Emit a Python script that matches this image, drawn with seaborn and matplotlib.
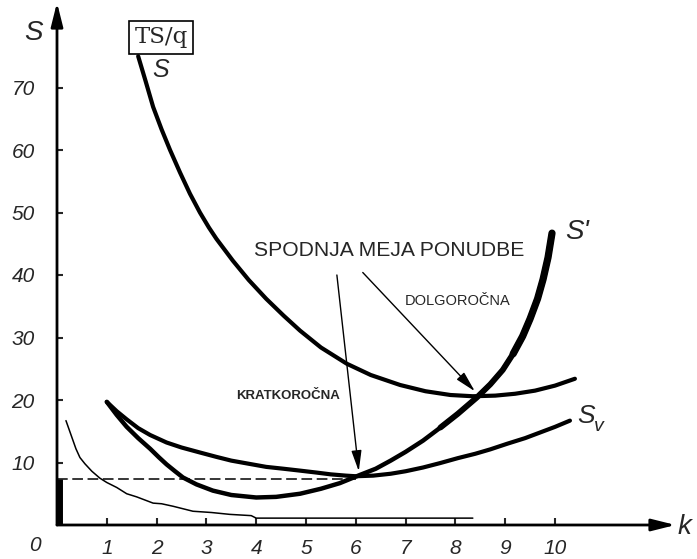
import seaborn as sns
import pandas as pd
import matplotlib.pyplot as plt

# data (k = quantity, S = cost per unit)
s_k = [1.63, 1.78, 1.93, 2.1, 2.27, 2.47, 2.67, 2.87, 3.05, 3.2, 3.53, 3.85, 4.2, 4.55, 4.88,
       5.3, 5.82, 6.3, 6.89, 7.4, 7.9, 8.35, 8.8, 9.2, 9.6, 10.0, 10.4]
s_val = [75.0, 71.0, 66.9, 63.3, 60.0, 56.4, 53.0, 50.0, 47.6, 45.8, 42.3, 39.2, 36.2, 33.5, 31.1,
         28.4, 25.8, 24.0, 22.4, 21.4, 20.8, 20.6, 20.7, 21.0, 21.5, 22.3, 23.4]

sp_k = [1.0, 1.2, 1.4, 1.63, 1.87, 2.05, 2.2, 2.37, 2.53, 2.8, 3.13, 3.5, 4.0, 4.4, 4.88, 5.3,
        5.68, 6.08, 6.4, 6.7, 7.0, 7.35, 7.7, 8.05, 8.43, 8.7, 8.95, 9.16, 9.35, 9.5, 9.65,
        9.76, 9.86, 9.94]
sp_val = [19.7, 17.6, 15.7, 13.9, 12.2, 10.8, 9.7, 8.6, 7.6, 6.5, 5.5, 4.8, 4.4, 4.5, 5.0, 5.8,
          6.7, 8.0, 9.0, 10.3, 11.7, 13.5, 15.6, 17.8, 20.4, 22.5, 24.8, 27.4, 30.2, 33.0, 36.2,
          39.3, 42.8, 46.7]

sv_k = [1.0, 1.2, 1.4, 1.63, 1.87, 2.2, 2.5, 2.87, 3.2, 3.5, 3.85, 4.2, 4.55, 4.88, 5.2, 5.5,
        5.8, 6.0, 6.35, 6.7, 7.0, 7.35, 7.69, 8.05, 8.4, 8.7, 9.04, 9.4, 9.7, 10.0, 10.3]
sv_val = [19.7, 18.2, 16.9, 15.5, 14.4, 13.2, 12.4, 11.6, 10.9, 10.3, 9.8, 9.3, 9.0, 8.7, 8.4, 8.1,
          7.9, 7.8, 7.9, 8.2, 8.6, 9.2, 9.9, 10.7, 11.4, 12.1, 13.0, 13.9, 14.8, 15.7, 16.7]

d_k = [0.18, 0.22, 0.3, 0.38, 0.46, 0.56, 0.7, 0.86, 1.0, 1.2, 1.4, 1.6, 1.93, 2.1, 2.33, 2.73,
       3.1, 3.47, 3.9, 4.0, 8.35]
d_val = [16.7, 15.8, 14.0, 12.2, 10.8, 9.8, 8.6, 7.5, 6.8, 6.0, 5.0, 4.5, 3.5, 3.4, 3.0, 2.2,
         2.0, 1.7, 1.5, 1.1, 1.1]

min_sv = 7.3  # shutdown level (dashed line)
x_ticks = [1, 2, 3, 4, 5, 6, 7, 8, 9, 10]
y_ticks = [10, 20, 30, 40, 50, 60, 70]

sns.set_style('white')
plt.rcParams['font.family'] = ['Liberation Sans', 'DejaVu Sans']

fig = plt.figure(figsize=(6.97, 5.59), dpi=100)
ax = fig.add_axes([0, 0, 1, 1])
ax.set_xlim(-57 / 49.8, 640 / 49.8)
ax.set_ylim(-34 / 6.25, 525 / 6.25)

# curves
line_kw = dict(sort=False, estimator=None, color='k', ax=ax,
               solid_capstyle='round', solid_joinstyle='round')
sns.lineplot(x=s_k, y=s_val, lw=3.0, **line_kw)
sns.lineplot(x=sp_k, y=sp_val, lw=3.2, **line_kw)
n = len(sp_k)
sns.lineplot(x=sp_k[n - 12:], y=sp_val[n - 12:], lw=4.2, **line_kw)
sns.lineplot(x=sp_k[n - 7:], y=sp_val[n - 7:], lw=5.2, **line_kw)
sns.lineplot(x=sv_k, y=sv_val, lw=3.0, **line_kw)
sns.lineplot(x=d_k, y=d_val, lw=1.1, **line_kw)

# dashed shutdown line + thick bar on the axis
ax.hlines(min_sv, 0, 6.0, colors='k', linestyles=(0, (7, 3)), lw=1.1)
ax.vlines(0.04, 0, min_sv, colors='k', lw=5)

# axes with arrows
for sp in ax.spines.values():
    sp.set_visible(False)
ax.spines['left'].set_position(('data', 0))
ax.spines['bottom'].set_position(('data', 0))
ar = dict(arrowstyle='-|>,head_length=0.8,head_width=0.2', lw=2, color='k',
          mutation_scale=18, shrinkA=0, shrinkB=0)
ax.annotate('', xy=(0, 83.6), xytext=(0, 0), arrowprops=ar)
ax.annotate('', xy=(12.42, 0), xytext=(0, 0), arrowprops=ar)

ax.set_xticks(x_ticks)
ax.set_yticks(y_ticks)
ax.set_xticklabels([str(v) for v in x_ticks], fontstyle='italic', fontsize=15)
ax.set_yticklabels([str(v) for v in y_ticks], fontstyle='italic', fontsize=15)
ax.tick_params(axis='x', direction='in', length=5, width=1.5, pad=10, bottom=True)
ax.tick_params(axis='y', direction='in', length=4, width=1.5, pad=16, left=True)
ax.grid(False)

ax.text(-0.44, -3.3, '0', fontstyle='italic', fontsize=15, ha='center', va='center')
ax.text(-0.48, 78.8, 'S', fontstyle='italic', fontsize=20, ha='center', va='center')
ax.text(12.6, -0.3, 'k', fontstyle='italic', fontsize=20, ha='center', va='center')

# curve labels
ax.text(2.09, 72.8, 'S', fontstyle='italic', fontsize=18, ha='center', va='center')
ax.text(2.09, 78.0, 'TS/q', family='DejaVu Serif', fontsize=16.5, ha='center', va='center',
        bbox=dict(boxstyle='square,pad=0.22', fc='white', ec='k', lw=1.2))
ax.text(10.45, 46.9, "S'", fontstyle='italic', fontsize=20, ha='center', va='center')
ax.text(10.62, 17.5, 'S', fontstyle='italic', fontsize=19, ha='center', va='center')
ax.text(10.87, 15.8, 'v', fontstyle='italic', fontsize=14, ha='center', va='center')

# annotations
ax.text(6.67, 44.0, 'SPODNJA MEJA PONUDBE', fontsize=15.2, ha='center', va='center')
ax.text(8.05, 35.9, 'DOLGOROČNA', fontsize=10.5, ha='center', va='center')
ax.text(4.64, 20.7, 'KRATKOROČNA', fontsize=9.5, fontweight='bold', ha='center', va='center')
arr = dict(arrowstyle='-|>,head_length=0.9,head_width=0.22', lw=1, color='k',
           mutation_scale=14, shrinkA=0, shrinkB=0)
ax.annotate('', xy=(6.06, 8.6), xytext=(5.62, 40.0), arrowprops=arr)
ax.annotate('', xy=(8.39, 21.4), xytext=(6.14, 40.4), arrowprops=arr)

plt.savefig('out.png', dpi=100)
